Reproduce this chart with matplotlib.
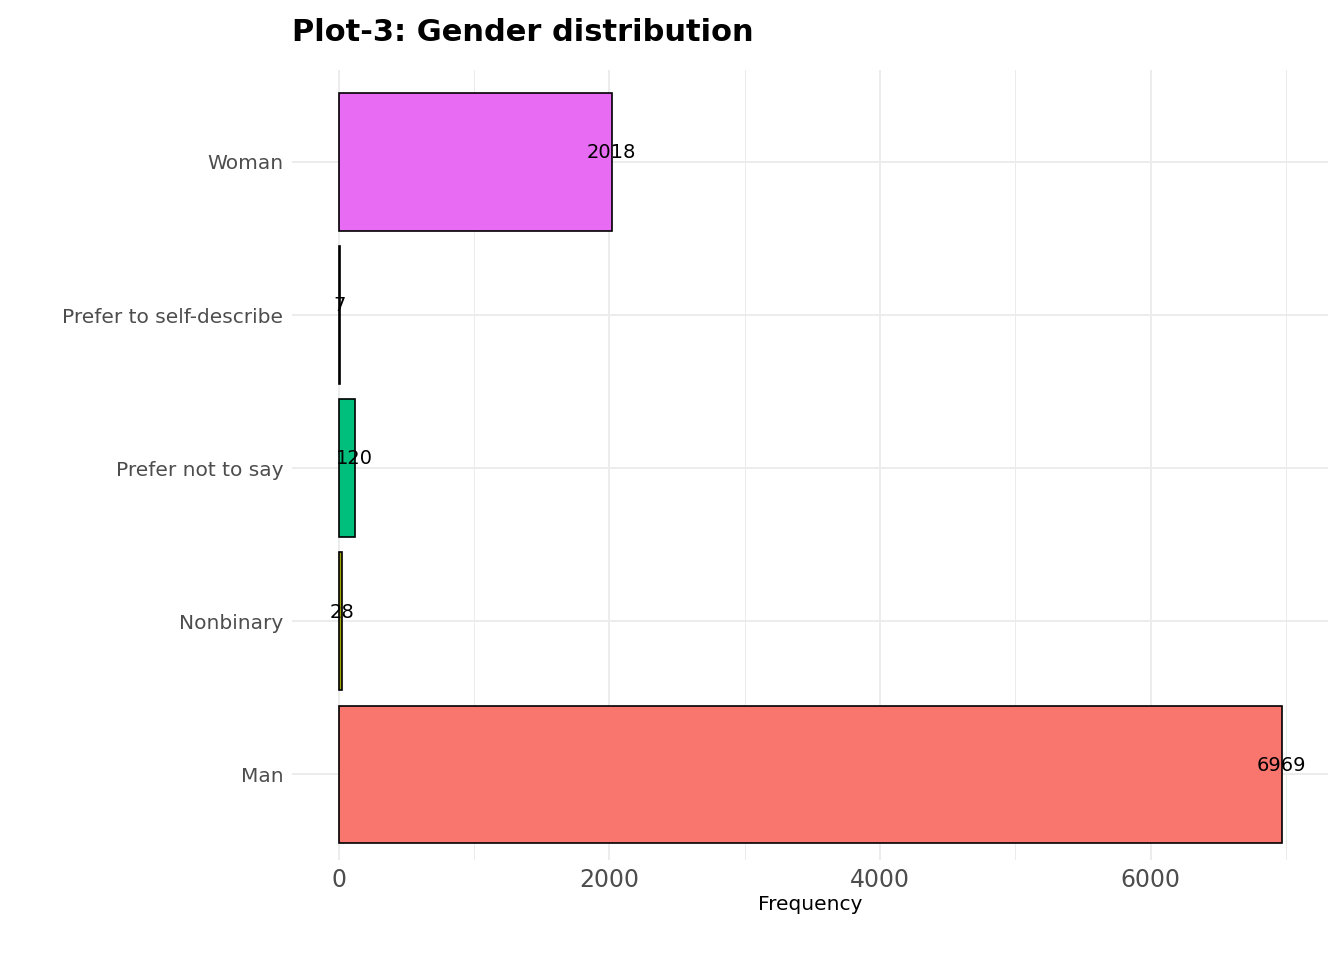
import matplotlib
matplotlib.use('Agg')
import matplotlib.pyplot as plt
from matplotlib.transforms import ScaledTranslation

# Data
categories = ["Man", "Nonbinary", "Prefer not to say", "Prefer to self-describe", "Woman"]
counts = [6969, 28, 120, 7, 2018]
colors = ["#F8766D", "#A3A500", "#00BF7D", "#00B0F6", "#E76BF3"]
xticks = [0, 2000, 4000, 6000]

fig = plt.figure(figsize=(13.44, 9.6), dpi=100)
ax = fig.add_axes([0.217, 0.104, 0.771, 0.823])

ypos = list(range(1, len(categories) + 1))
ax.barh(ypos, counts, height=0.9, color=colors, edgecolor="black", linewidth=1.2, zorder=3)
for y, c in zip(ypos, counts):
    ax.text(c, y + 0.06, str(c), ha="center", va="center", fontsize=14, color="black", zorder=4)

ax.set_xlim(-347, 7310)
ax.set_ylim(0.44, 5.6)
ax.set_yticks(ypos)
ax.set_yticklabels(categories, fontsize=14.5, color="#4D4D4D")
ax.set_xticks(xticks)
ax.set_xticks([1000, 3000, 5000, 7000], minor=True)
ax.set_xticklabels([str(t) for t in xticks], fontsize=17, color="#4D4D4D")
off = ScaledTranslation(-0.36, 0, fig.dpi_scale_trans)
for lbl in ax.get_xticklabels():
    lbl.set_transform(lbl.get_transform() + off)

ax.grid(True, which="major", color="#EBEBEB", linewidth=1.3, zorder=0)
ax.grid(True, which="minor", axis="x", color="#EBEBEB", linewidth=0.7, zorder=0)
ax.tick_params(which="both", length=0, pad=6)
for s in ax.spines.values():
    s.set_visible(False)

ax.set_xlabel("Frequency", fontsize=14.5, labelpad=2)
fig.text(0.217, 0.966, "Plot-3: Gender distribution", fontsize=22, fontweight="bold", ha="left", va="center")

fig.savefig("out.png", dpi=100)
